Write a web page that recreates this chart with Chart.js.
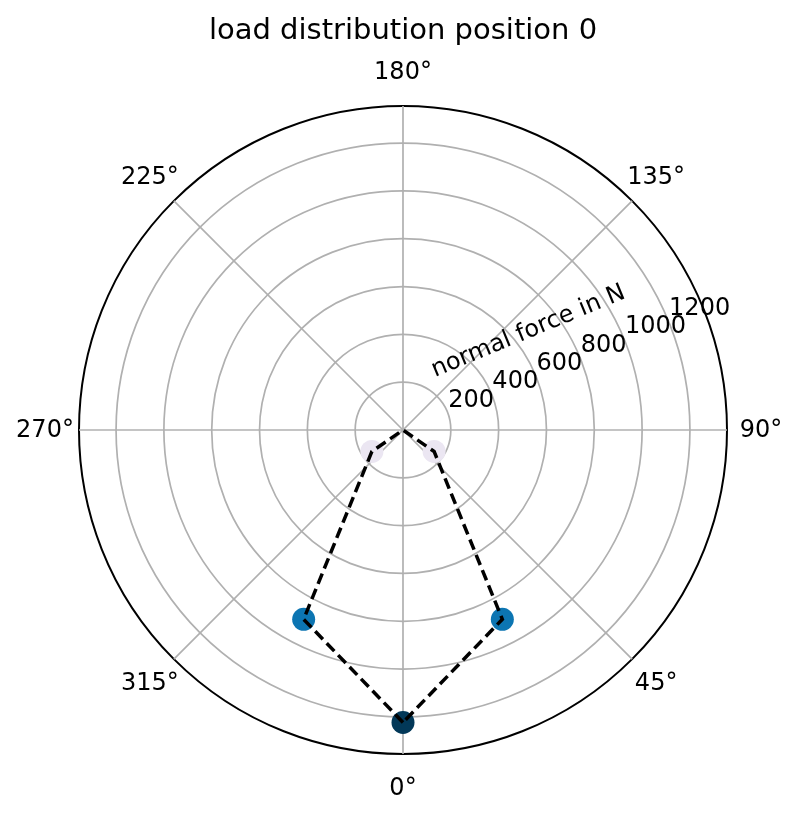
<!DOCTYPE html>
<html><head><meta charset="utf-8">
<script src="https://cdn.jsdelivr.net/npm/chart.js@4.4.1/dist/chart.umd.min.js"></script>
<style>html,body{margin:0;padding:0;background:#fff}#wrap{width:800px;height:817px}</style>
</head><body><div id="wrap"><canvas id="c" width="800" height="817"></canvas></div>
<script>
// ---- data ----
const titleText = 'load distribution position 0';
const elementAngles = [0, 27.69, 55.38, 83.08, 110.77, 138.46, 166.15, 193.85, 221.54, 249.23, 276.92, 304.62, 332.31];
const normalForce   = [1223, 894, 158, 0, 0, 0, 0, 0, 0, 0, 0, 158, 894];
const thetaTicks = [0, 45, 90, 135, 180, 225, 270, 315];
const thetaTickLabels = ['0°', '45°', '90°', '135°', '180°', '225°', '270°', '315°'];
const radialTicks = [200, 400, 600, 800, 1000, 1200];
const radialMax = 1355;
const radialAxisLabel = 'normal force in N';
const radialLabelAngle = 112.5;

// ---- angular grid (104 slots: multiples of 45° and of 360/13°) ----
const SLOTS = 104;
const STEP = 360 / SLOTS;
function slotOf(deg) { return ((((360 - deg) % 360) + 360) % 360) / STEP; }
const labels = Array.from({length: SLOTS}, (_, i) => '');
const lineData = new Array(SLOTS).fill(null);
const pointData = new Array(SLOTS).fill(null);
elementAngles.forEach((a, k) => {
  const idx = Math.round(slotOf(a)) % SLOTS;
  lineData[idx] = normalForce[k];
  if (normalForce[k] > 0) pointData[idx] = normalForce[k];
});
const maxForce = Math.max(...normalForce);

// PuBu colormap
const PuBu = ['#fff7fb','#ece7f2','#d0d1e6','#a6bddb','#74a9cf','#3690c0','#0570b0','#045a8d','#023858'];
function hex(h){return [1,3,5].map(i=>parseInt(h.substr(i,2),16));}
function pubu(t){
  t = Math.max(0, Math.min(1, t));
  const x = t * (PuBu.length - 1); const i = Math.min(Math.floor(x), PuBu.length - 2); const f = x - i;
  const a = hex(PuBu[i]), b = hex(PuBu[i+1]);
  return 'rgb(' + a.map((v,j)=>Math.round(v + (b[j]-v)*f)).join(',') + ')';
}

Chart.defaults.font.family = '"DejaVu Sans", sans-serif';
Chart.defaults.color = '#000';

const polarLabels = {
  id: 'polarLabels',
  afterDraw(chart) {
    const s = chart.scales.r; const ctx = chart.ctx;
    ctx.save();
    ctx.fillStyle = '#000';
    ctx.font = '24px "DejaVu Sans"';
    ctx.textAlign = 'center'; ctx.textBaseline = 'middle';
    thetaTicks.forEach((t, i) => {
      const p = s.getPointPosition(slotOf(t), s.drawingArea + 34);
      ctx.fillText(thetaTickLabels[i], p.x, p.y + 1);
    });
    ctx.textAlign = 'left'; ctx.textBaseline = 'alphabetic';
    radialTicks.forEach(v => {
      const p = s.getPointPosition(slotOf(radialLabelAngle), s.getDistanceFromCenterForValue(v));
      ctx.fillText(String(v), p.x + 1, p.y - 5);
    });
    ctx.translate(s.xCenter + 32, s.yCenter - 53);
    ctx.rotate(-22.5 * Math.PI / 180);
    ctx.fillText(radialAxisLabel, 0, 0);
    ctx.restore();
  }
};

new Chart(document.getElementById('c'), {
  type: 'radar',
  data: {
    labels: labels,
    datasets: [
      {
        data: lineData, order: 0, spanGaps: true, fill: false,
        borderColor: '#000', borderWidth: 3.5, borderDash: [11, 5.5],
        pointRadius: 0, tension: 0
      },
      {
        data: pointData, order: 1, showLine: false, fill: false,
        pointRadius: 11.5, pointBorderWidth: 0,
        pointBackgroundColor: c => pubu((c.raw || 0) / maxForce)
      }
    ]
  },
  options: {
    responsive: false, animation: false,
    layout: {padding: {top: 14, left: 79, right: 73, bottom: 63}},
    plugins: {
      legend: {display: false}, tooltip: {enabled: false},
      title: {display: true, text: titleText, color: '#000',
        font: {size: 29, weight: 'normal', family: '"DejaVu Sans"'},
        padding: {top: 0, bottom: 57.2}}
    },
    scales: {
      r: {
        min: 0, max: radialMax, startAngle: 180,
        afterBuildTicks: sc => { sc.ticks = [0, ...radialTicks, radialMax].map(v => ({value: v})); },
        ticks: {display: false},
        pointLabels: {display: false},
        grid: {circular: true,
          color: c => (c.tick && c.tick.value === radialMax) ? '#000' : '#b0b0b0',
          lineWidth: c => (c.tick && c.tick.value === radialMax) ? 2 : 1.7},
        angleLines: {display: true, color: '#b0b0b0', lineWidth: c => (c.index % 13 === 0 ? 1.7 : 0)}
      }
    }
  },
  plugins: [polarLabels]
});
</script></body></html>
